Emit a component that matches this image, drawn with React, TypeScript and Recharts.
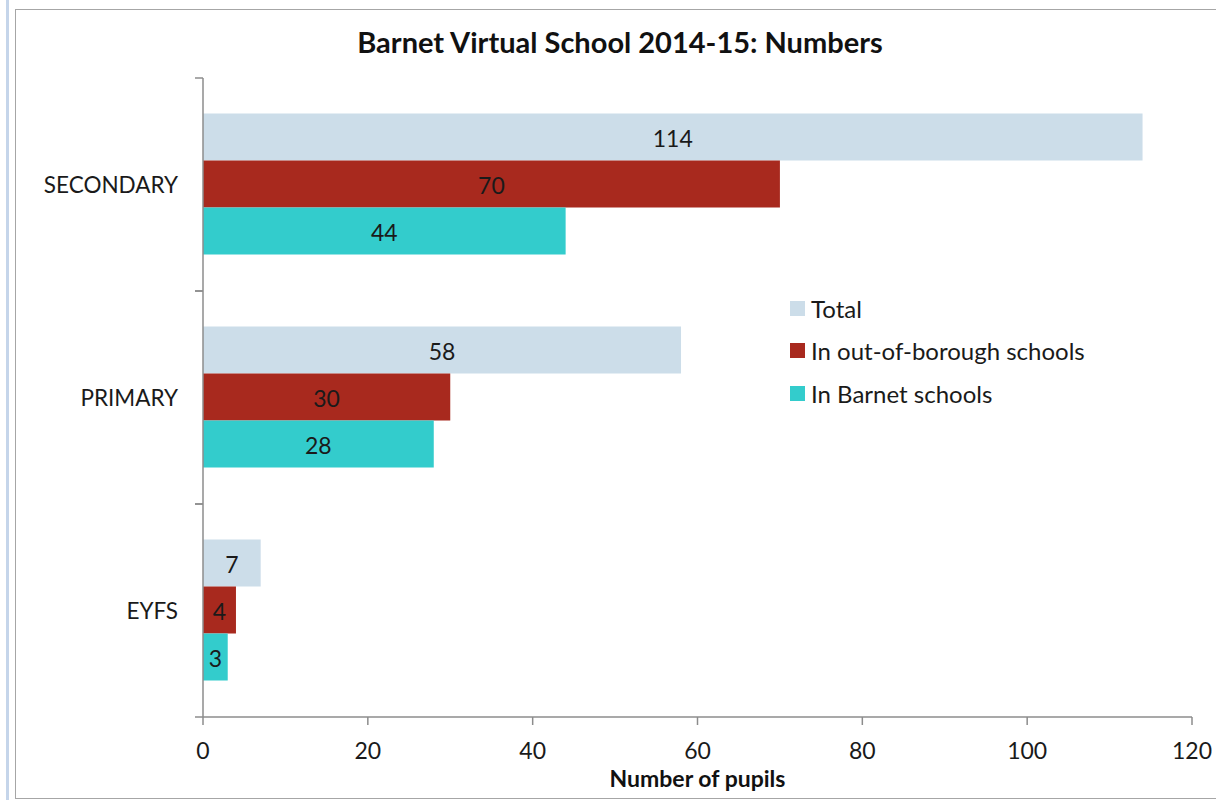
import { BarChart, Bar, XAxis, YAxis, LabelList, Label } from 'recharts';

const categories = ['SECONDARY', 'PRIMARY', 'EYFS'];
const totalValues = [114, 58, 7];
const outOfBoroughValues = [70, 30, 4];
const barnetValues = [44, 28, 3];
const xTicks = [0, 20, 40, 60, 80, 100, 120];

const seriesNames = ['Total', 'In out-of-borough schools', 'In Barnet schools'];
const seriesColors = ['#ccdde9', '#a8291e', '#33cccc'];

const data = categories.map((name, i) => ({
  name,
  total: totalValues[i],
  outOfBorough: outOfBoroughValues[i],
  barnet: barnetValues[i]
}));

const FONT = 'Lato, "Open Sans", sans-serif';
const AXIS = '#8c8c8c';
const TEXT = '#1a1a1a';

// Excel puts the category ticks on band edges, not on the label
const CategoryTick = (props: any) => {
  const { x, y, payload } = props;
  const half = payload?.offset ?? 106;
  return (
    <g>
      <line x1={x - 8} x2={x} y1={y - half} y2={y - half} stroke={AXIS} strokeWidth={1.5} />
      <line x1={x - 8} x2={x} y1={y + half} y2={y + half} stroke={AXIS} strokeWidth={1.5} />
      <text x={x - 25} y={y} textAnchor="end" dominantBaseline="central" fontSize={22.5} fill={TEXT} fontFamily={FONT}>
        {payload.value}
      </text>
    </g>
  );
};

const ChartLegend = () => (
  <div style={{ position: 'absolute', left: 790, top: 287, fontFamily: FONT, fontSize: 24, color: TEXT }}>
    {seriesNames.map((n, i) => (
      <div key={n} style={{ display: 'flex', alignItems: 'center', height: 42.5 }}>
        <span style={{ width: 15, height: 15, background: seriesColors[i], marginRight: 6 }} />
        {n}
      </div>
    ))}
  </div>
);

export default function App() {
  return (
    <div style={{ position: 'absolute', left: 0, top: 0, width: 1216, height: 800, background: '#fff', overflow: 'hidden' }}>
      <div style={{ position: 'absolute', left: 6, top: 0, width: 3, height: 800, background: '#c5d5ea' }} />
      <div style={{ position: 'absolute', left: 15, top: 9, width: 1220, height: 788, border: '1.5px solid #a6a6a6' }} />
      <div
        style={{
          position: 'absolute',
          left: 0,
          top: 27,
          width: 1240,
          textAlign: 'center',
          fontFamily: FONT,
          fontWeight: 700,
          fontSize: 29,
          lineHeight: 1,
          color: '#111'
        }}
      >
        Barnet Virtual School 2014-15: Numbers
      </div>
      <div style={{ position: 'absolute', left: 0, top: 0 }}>
        <BarChart
          width={1216}
          height={800}
          data={data}
          layout="vertical"
          margin={{ top: 78, right: 24, bottom: 53, left: 0 }}
          barCategoryGap="16.7%"
          barGap={0}
        >
          <XAxis
            type="number"
            domain={[0, 120]}
            ticks={xTicks}
            stroke={AXIS}
            strokeWidth={1.5}
            tickSize={8}
            tickMargin={18}
            height={30}
            tick={{ fontSize: 23, fill: TEXT, fontFamily: FONT }}
          >
            <Label
              value="Number of pupils"
              position="bottom"
              offset={24}
              style={{ fontSize: 23, fontWeight: 700, fill: '#111', fontFamily: FONT }}
            />
          </XAxis>
          <YAxis
            type="category"
            dataKey="name"
            width={203}
            stroke={AXIS}
            strokeWidth={1.5}
            tickLine={false}
            tickSize={0}
            tickMargin={0}
            tick={<CategoryTick />}
            interval={0}
          />
          <Bar dataKey="total" name={seriesNames[0]} fill={seriesColors[0]} isAnimationActive={false}>
            <LabelList dataKey="total" position="center" dy={2} fill={TEXT} fontSize={23} fontFamily={FONT} />
          </Bar>
          <Bar dataKey="outOfBorough" name={seriesNames[1]} fill={seriesColors[1]} isAnimationActive={false}>
            <LabelList dataKey="outOfBorough" position="center" dy={2} fill={TEXT} fontSize={23} fontFamily={FONT} />
          </Bar>
          <Bar dataKey="barnet" name={seriesNames[2]} fill={seriesColors[2]} isAnimationActive={false}>
            <LabelList dataKey="barnet" position="center" dy={2} fill={TEXT} fontSize={23} fontFamily={FONT} />
          </Bar>
        </BarChart>
      </div>
      <ChartLegend />
    </div>
  );
}
